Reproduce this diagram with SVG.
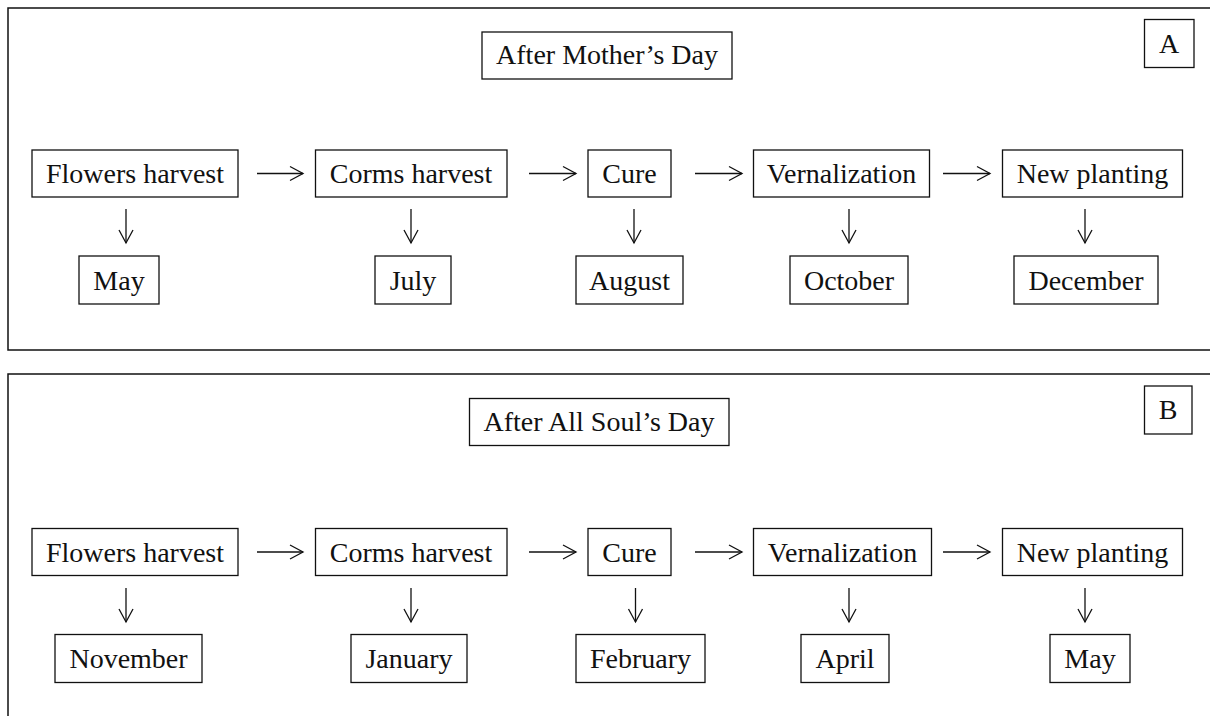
<svg xmlns="http://www.w3.org/2000/svg" width="1210" height="716" viewBox="0 0 1210 716">
<style>
  .panel { fill: none; stroke: #111; stroke-width: 1.5; }
  .box { fill: #fff; stroke: #111; stroke-width: 1.3; }
  .t { font-family: "Liberation Serif", "Times New Roman", serif; font-size: 28px; fill: #111; text-anchor: middle; }
  .conn { fill: none; stroke: #111; stroke-width: 1.3; }
</style>
<defs>
  <marker id="ah" markerUnits="userSpaceOnUse" markerWidth="20" markerHeight="20" refX="14" refY="8" orient="auto" overflow="visible">
    <path d="M1,1 L14,8 L1,15" fill="none" stroke="#111" stroke-width="1.3"/>
  </marker>
</defs>
<rect width="1210" height="716" fill="#fff"/>

<g id="panelA">
  <rect class="panel" x="8" y="8" width="1220" height="342"/>
</g>
<g id="panelB">
  <rect class="panel" x="8" y="374" width="1220" height="400"/>
</g>

<!-- Panel A nodes -->
<g id="titleA"><rect class="box" x="482" y="32" width="250" height="47"/><text class="t" x="607" y="64">After Mother’s Day</text></g>
<g id="labelA"><rect class="box" x="1144.5" y="19.5" width="49.5" height="48"/><text class="t" x="1169" y="52.5">A</text></g>
<g id="a-flowers"><rect class="box" x="32" y="150" width="206" height="47"/><text class="t" x="135" y="183">Flowers harvest</text></g>
<g id="a-corms"><rect class="box" x="315.5" y="150" width="191.5" height="47"/><text class="t" x="411" y="183">Corms harvest</text></g>
<g id="a-cure"><rect class="box" x="588" y="150" width="83" height="47"/><text class="t" x="629.5" y="183">Cure</text></g>
<g id="a-vern"><rect class="box" x="753.5" y="150" width="176" height="47"/><text class="t" x="841.5" y="183">Vernalization</text></g>
<g id="a-new"><rect class="box" x="1002.5" y="150" width="180" height="47"/><text class="t" x="1092.5" y="183">New planting</text></g>
<g id="a-may"><rect class="box" x="79" y="256" width="80" height="48"/><text class="t" x="119" y="290">May</text></g>
<g id="a-july"><rect class="box" x="375" y="256" width="76" height="48"/><text class="t" x="413" y="290">July</text></g>
<g id="a-august"><rect class="box" x="576" y="256" width="107" height="48"/><text class="t" x="629.5" y="290">August</text></g>
<g id="a-october"><rect class="box" x="790" y="256" width="118" height="48"/><text class="t" x="849" y="290">October</text></g>
<g id="a-december"><rect class="box" x="1014" y="256" width="144" height="48"/><text class="t" x="1086" y="290">December</text></g>

<!-- Panel B nodes -->
<g id="titleB"><rect class="box" x="469.5" y="398.5" width="259.5" height="47"/><text class="t" x="599" y="431">After All Soul’s Day</text></g>
<g id="labelB"><rect class="box" x="1144.5" y="386" width="47.5" height="48"/><text class="t" x="1168" y="419">B</text></g>
<g id="b-flowers"><rect class="box" x="32" y="528.5" width="206" height="47"/><text class="t" x="135" y="561.5">Flowers harvest</text></g>
<g id="b-corms"><rect class="box" x="315.5" y="528.5" width="191.5" height="47"/><text class="t" x="411" y="561.5">Corms harvest</text></g>
<g id="b-cure"><rect class="box" x="588" y="528.5" width="83" height="47"/><text class="t" x="629.5" y="561.5">Cure</text></g>
<g id="b-vern"><rect class="box" x="753.5" y="528.5" width="178" height="47"/><text class="t" x="842.5" y="561.5">Vernalization</text></g>
<g id="b-new"><rect class="box" x="1002.5" y="528.5" width="180" height="47"/><text class="t" x="1092.5" y="561.5">New planting</text></g>
<g id="b-november"><rect class="box" x="55" y="634.5" width="147" height="48"/><text class="t" x="128.5" y="668">November</text></g>
<g id="b-january"><rect class="box" x="351" y="634.5" width="116" height="48"/><text class="t" x="409" y="668">January</text></g>
<g id="b-february"><rect class="box" x="576" y="634.5" width="129" height="48"/><text class="t" x="640.5" y="668">February</text></g>
<g id="b-april"><rect class="box" x="801" y="634.5" width="88" height="48"/><text class="t" x="845" y="668">April</text></g>
<g id="b-may"><rect class="box" x="1050" y="634.5" width="80" height="48"/><text class="t" x="1090" y="668">May</text></g>

<g id="connectors">
  <!-- A horizontal -->
  <line class="conn" x1="257" y1="173.5" x2="303" y2="173.5" marker-end="url(#ah)"/>
  <line class="conn" x1="529" y1="173.5" x2="576" y2="173.5" marker-end="url(#ah)"/>
  <line class="conn" x1="695" y1="173.5" x2="742" y2="173.5" marker-end="url(#ah)"/>
  <line class="conn" x1="943" y1="173.5" x2="990" y2="173.5" marker-end="url(#ah)"/>
  <!-- A vertical -->
  <line class="conn" x1="126" y1="209" x2="126" y2="243" marker-end="url(#ah)"/>
  <line class="conn" x1="411" y1="209" x2="411" y2="243" marker-end="url(#ah)"/>
  <line class="conn" x1="634" y1="209" x2="634" y2="243" marker-end="url(#ah)"/>
  <line class="conn" x1="849" y1="209" x2="849" y2="243" marker-end="url(#ah)"/>
  <line class="conn" x1="1085" y1="209" x2="1085" y2="243" marker-end="url(#ah)"/>
  <!-- B horizontal -->
  <line class="conn" x1="257" y1="552" x2="303" y2="552" marker-end="url(#ah)"/>
  <line class="conn" x1="529" y1="552" x2="576" y2="552" marker-end="url(#ah)"/>
  <line class="conn" x1="695" y1="552" x2="742" y2="552" marker-end="url(#ah)"/>
  <line class="conn" x1="943" y1="552" x2="990" y2="552" marker-end="url(#ah)"/>
  <!-- B vertical -->
  <line class="conn" x1="126" y1="588" x2="126" y2="622" marker-end="url(#ah)"/>
  <line class="conn" x1="411" y1="588" x2="411" y2="622" marker-end="url(#ah)"/>
  <line class="conn" x1="635.5" y1="588" x2="635.5" y2="622" marker-end="url(#ah)"/>
  <line class="conn" x1="849" y1="588" x2="849" y2="622" marker-end="url(#ah)"/>
  <line class="conn" x1="1085" y1="588" x2="1085" y2="622" marker-end="url(#ah)"/>
</g>
</svg>
